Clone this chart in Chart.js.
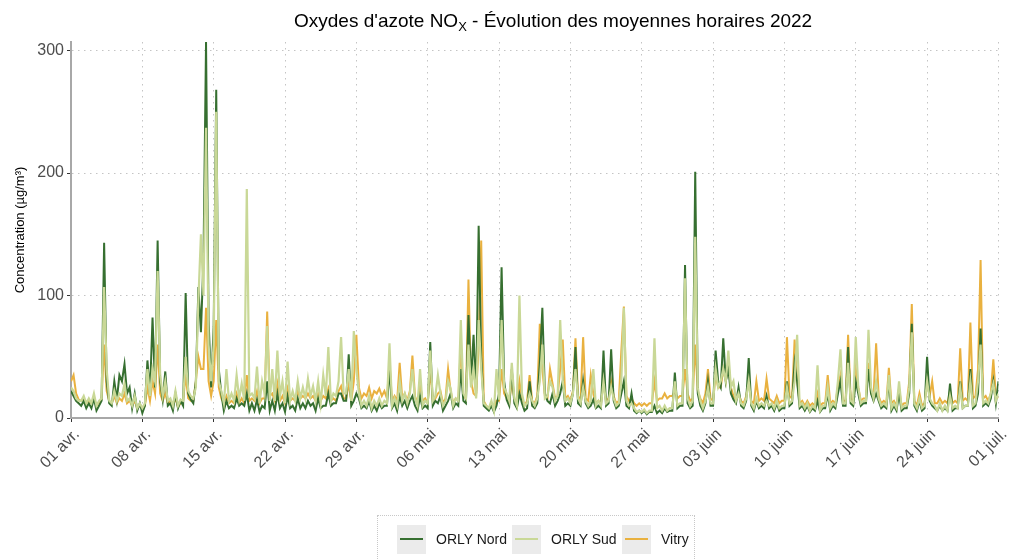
<!DOCTYPE html>
<html>
<head>
<meta charset="utf-8">
<script src="https://cdn.jsdelivr.net/npm/chart.js@4.4.1/dist/chart.umd.min.js"></script>
<style>
  html, body { margin: 0; padding: 0; background: #ffffff; }
  #wrap { position: relative; width: 1015px; height: 560px; overflow: hidden; font-family: "Liberation Sans", Arial, sans-serif; }
  #c { position: absolute; left: 0; top: 0; }
  #legend { position: absolute; left: 377px; top: 515px; width: 318px; height: 60px; border: 1px dotted #c8c8c8; box-sizing: border-box; }
  .key { position: absolute; top: 9px; width: 29px; height: 29px; background: #ebebeb; }
  .key span { position: absolute; left: 3px; top: 13px; width: 23px; height: 2px; }
  .lab { position: absolute; top: 15px; font-size: 14px; color: #1a1a1a; line-height: 16px; white-space: nowrap; }
</style>
</head>
<body>
<div id="wrap">
  <canvas id="c" width="1015" height="560"></canvas>
  <div id="legend"></div>
</div>
<script>
// ---- Data (hourly means sampled every 6 h, from 01 Apr 2022 00h to 01 Jul 2022 00h) ----
const seriesNames = ["ORLY Nord", "ORLY Sud", "Vitry"];
const weekLabels = ["01 avr.", "08 avr.", "15 avr.", "22 avr.", "29 avr.", "06 mai", "13 mai",
                    "20 mai", "27 mai", "03 juin", "10 juin", "17 juin", "24 juin", "01 juil."];
const yTickValues = [0, 100, 200, 300];
const stepHours = 6;

const orlyNord = [
  22,18,14,12, 10,14,8,12, 8,16,6,10, 14,143,30,12, 10,30,15,35, 30,44,20,25, 8,20,6,12,
  4,10,47,20, 82,25,145,30, 15,38,10,12, 6,20,8,14, 10,102,20,15, 12,30,107,70, 130,307,80,25,
  75,268,40,20, 6,14,8,10, 8,16,10,12, 10,20,6,12, 6,15,5,10, 8,30,6,14, 6,20,8,12,
  5,18,8,10, 6,16,8,12, 8,14,10,12, 6,16,8,10, 10,20,10,12, 12,20,20,14, 14,52,10,14,
  20,16,8,10, 8,14,6,10, 6,12,8,10, 10,40,8,12, 6,18,10,14, 8,14,18,10, 6,18,8,10,
  8,62,10,14, 12,18,6,10, 14,20,8,12, 10,40,14,12, 84,30,68,20, 157,50,10,8, 6,10,5,10,
  20,123,30,15, 10,40,12,8, 20,12,6,8, 30,10,8,12, 45,90,20,14, 12,20,10,14, 20,30,10,12,
  10,20,58,12, 10,30,12,8, 10,15,8,10, 8,55,10,12, 56,14,8,10, 20,30,10,8, 20,6,4,6,
  4,6,3,5, 5,10,4,6, 4,8,5,6, 6,37,8,10, 10,125,12,8, 10,201,20,10, 6,12,30,10,
  10,55,30,25, 65,30,40,20, 15,12,25,10, 8,14,49,10, 6,14,8,10, 8,18,8,10, 6,12,6,8,
  8,30,10,12, 45,30,8,10, 6,10,5,8, 6,14,5,8, 8,20,6,10, 8,20,30,10, 10,58,12,10,
  30,20,10,12, 12,40,20,14, 20,14,8,10, 8,30,6,10, 6,20,6,8, 8,20,77,10, 6,14,6,8,
  50,14,10,8, 6,10,6,8, 6,28,6,8, 8,30,8,10, 10,40,8,10, 20,73,10,12, 10,16,30,12,
  30
];
const orlySud = [
  25,22,16,14, 14,18,12,16, 12,20,10,14, 16,107,40,14, 12,22,14,20, 18,28,14,16, 10,18,8,12,
  8,12,40,18, 40,30,120,35, 18,30,14,16, 10,22,10,15, 14,50,22,18, 16,25,97,150, 100,237,60,30,
  60,250,30,22, 12,40,14,20, 14,35,16,28, 14,187,18,20, 16,42,12,30, 20,75,14,40, 14,55,18,30,
  12,46,14,22, 14,30,16,25, 16,32,18,26, 14,30,12,35, 18,58,14,20, 18,30,66,20, 20,40,14,71,
  40,20,10,14, 10,18,8,14, 10,16,10,14, 12,61,10,16, 10,30,14,20, 12,20,40,16, 10,40,10,14,
  12,55,14,18, 35,20,10,14, 30,24,10,16, 14,80,20,16, 60,25,40,16, 80,40,12,10, 8,14,6,40,
  15,80,25,20, 14,45,16,10, 100,20,10,12, 20,14,10,16, 30,60,16,18, 30,25,14,18, 80,30,14,16,
  12,20,40,16, 12,25,14,10, 14,40,10,14, 10,30,12,14, 25,16,10,12, 30,90,14,10, 12,8,5,6,
  5,7,4,6, 6,65,8,10, 6,10,6,8, 8,30,10,12, 12,114,16,10, 14,148,25,14, 8,14,25,12,
  12,40,25,30, 40,30,55,25, 30,14,20,12, 10,16,30,12, 8,16,10,12, 10,14,10,12, 8,14,8,10,
  10,25,12,14, 30,68,10,12, 8,12,6,10, 8,43,6,10, 10,25,8,12, 10,30,56,12, 12,45,14,12,
  66,25,12,14, 14,72,25,16, 30,16,10,12, 10,35,8,12, 8,30,8,10, 10,25,70,12, 8,16,8,10,
  30,16,12,10, 6,12,6,10, 6,18,8,10, 8,25,8,10, 10,30,10,12, 30,60,12,14, 12,20,28,14,
  20
];
const vitry = [
  30,35,20,15, 14,16,12,14, 12,16,10,13, 15,60,22,14, 12,18,12,16, 14,20,12,14, 10,14,8,10,
  8,10,25,14, 30,20,60,20, 14,20,12,14, 10,16,9,12, 14,35,16,14, 14,30,50,40, 40,90,30,18,
  30,80,25,16, 12,18,12,14, 12,20,12,16, 12,35,14,16, 14,22,12,16, 16,87,18,20, 14,28,14,18,
  12,24,14,16, 14,22,16,18, 16,20,16,18, 14,20,14,18, 16,24,14,16, 14,22,26,16, 16,28,14,30,
  68,25,16,20, 18,25,16,22, 20,24,18,22, 16,45,14,18, 14,45,16,20, 14,22,51,18, 12,28,14,16,
  12,40,14,16, 20,22,12,16, 40,22,12,16, 14,60,18,16, 113,30,20,18, 60,145,14,10, 8,12,8,14,
  14,40,20,16, 12,30,16,12, 30,16,10,14, 35,14,12,18, 77,40,18,16, 40,28,16,18, 40,64,16,18,
  14,22,65,18, 14,66,16,14, 35,20,12,14, 12,30,14,16, 30,18,12,14, 55,91,18,14, 16,12,10,12,
  10,12,10,12, 12,30,14,16, 16,20,16,18, 18,22,16,18, 18,40,20,14, 16,60,22,16, 12,20,40,16,
  14,35,25,25, 40,30,45,25, 18,14,20,14, 12,18,30,14, 12,30,14,16, 14,32,16,14, 12,18,12,14,
  14,66,18,16, 64,30,12,14, 10,14,10,12, 10,20,10,12, 12,35,12,14, 12,25,35,14, 14,68,16,14,
  40,25,14,16, 16,45,20,18, 61,18,12,14, 12,41,12,14, 10,24,10,12, 12,30,93,14, 10,20,10,12,
  30,18,30,12, 12,16,12,14, 12,22,12,14, 12,57,14,16, 14,78,16,18, 40,129,16,18, 14,20,48,18,
  16
];

const colors = { nord: "#366f30", sud: "#c9d897", vitry: "#e9b13f" };
const FONT = '"Liberation Sans", Arial, sans-serif';

function toPoints(arr) { return arr.map((v, i) => ({ x: i * stepHours, y: v })); }

// Legend (HTML)
const legendItems = [
  { name: seriesNames[0], color: colors.nord, keyLeft: 19, labLeft: 58 },
  { name: seriesNames[1], color: colors.sud, keyLeft: 134, labLeft: 173 },
  { name: seriesNames[2], color: colors.vitry, keyLeft: 244, labLeft: 283 }
];
const lg = document.getElementById('legend');
legendItems.forEach(it => {
  const k = document.createElement('div'); k.className = 'key'; k.style.left = it.keyLeft + 'px';
  const s = document.createElement('span'); s.style.background = it.color; k.appendChild(s);
  const l = document.createElement('div'); l.className = 'lab'; l.style.left = it.labLeft + 'px'; l.textContent = it.name;
  lg.appendChild(k); lg.appendChild(l);
});

// Title and y-axis title drawn on canvas (title has subscript X)
const textPlugin = {
  id: 'texts',
  afterDraw(chart) {
    const ctx = chart.ctx;
    ctx.save();
    ctx.fillStyle = '#000';
    ctx.textBaseline = 'alphabetic';
    ctx.textAlign = 'left';
    const fs = 19;
    const p1 = "Oxydes d'azote NO", sub = "X", p2 = " - Évolution des moyennes horaires 2022";
    ctx.font = fs + 'px ' + FONT;
    const w1 = ctx.measureText(p1).width;
    ctx.font = Math.round(fs * 0.7) + 'px ' + FONT;
    const w2 = ctx.measureText(sub).width;
    let x = 294, base = 27;
    ctx.font = fs + 'px ' + FONT; ctx.fillText(p1, x, base); x += w1;
    ctx.font = Math.round(fs * 0.7) + 'px ' + FONT; ctx.fillText(sub, x, base + 4); x += w2;
    ctx.font = fs + 'px ' + FONT; ctx.fillText(p2, x, base);
    // y-axis title
    ctx.translate(24, 230);
    ctx.rotate(-Math.PI / 2);
    ctx.textAlign = 'center';
    ctx.font = '13px ' + FONT;
    ctx.fillText('Concentration (µg/m³)', 0, 0);
    ctx.restore();
  }
};

const ds = (label, data, color, width, order) => ({
  label, data: toPoints(data), borderColor: color, backgroundColor: color,
  borderWidth: width, pointRadius: 0, tension: 0, fill: false, order
});

new Chart(document.getElementById('c'), {
  type: 'line',
  data: {
    datasets: [
      ds(seriesNames[1], orlySud, colors.sud, 2.2, 0),
      ds(seriesNames[0], orlyNord, colors.nord, 2, 1),
      ds(seriesNames[2], vitry, colors.vitry, 2, 2)
    ]
  },
  options: {
    responsive: false,
    animation: false,
    events: [],
    layout: { padding: { top: 42, right: 12, left: 0, bottom: 0 } },
    plugins: { legend: { display: false }, title: { display: false }, tooltip: { enabled: false } },
    scales: {
      x: {
        type: 'linear', min: 0, max: (weekLabels.length - 1) * 168,
        afterBuildTicks: (s) => { s.ticks = weekLabels.map((l, i) => ({ value: i * 168 })); },
        afterFit: (s) => { s.height = 142; },
        ticks: {
          autoSkip: false, maxRotation: 45, minRotation: 45, padding: 3, labelOffset: 6,
          color: '#4d4d4d', font: { family: FONT, size: 16 },
          callback: (v) => weekLabels[Math.round(v / 168)]
        },
        grid: { color: '#c4c4c4', lineWidth: 1, tickLength: 4, tickColor: '#333333', tickWidth: 1 },
        border: { display: true, color: '#a8a8a8', width: 2, dash: [1.5, 4.5] }
      },
      y: {
        min: 0, max: 307,
        afterBuildTicks: (s) => { s.ticks = yTickValues.map(v => ({ value: v })); },
        afterFit: (s) => { s.width = 71; },
        ticks: { color: '#4d4d4d', font: { family: FONT, size: 16 }, padding: 3 },
        grid: { color: '#c4c4c4', lineWidth: 1, tickLength: 4, tickColor: '#333333', tickWidth: 1 },
        border: { display: true, color: '#a8a8a8', width: 2, dash: [1.5, 4.5] }
      }
    }
  },
  plugins: [textPlugin]
});
</script>
</body>
</html>
